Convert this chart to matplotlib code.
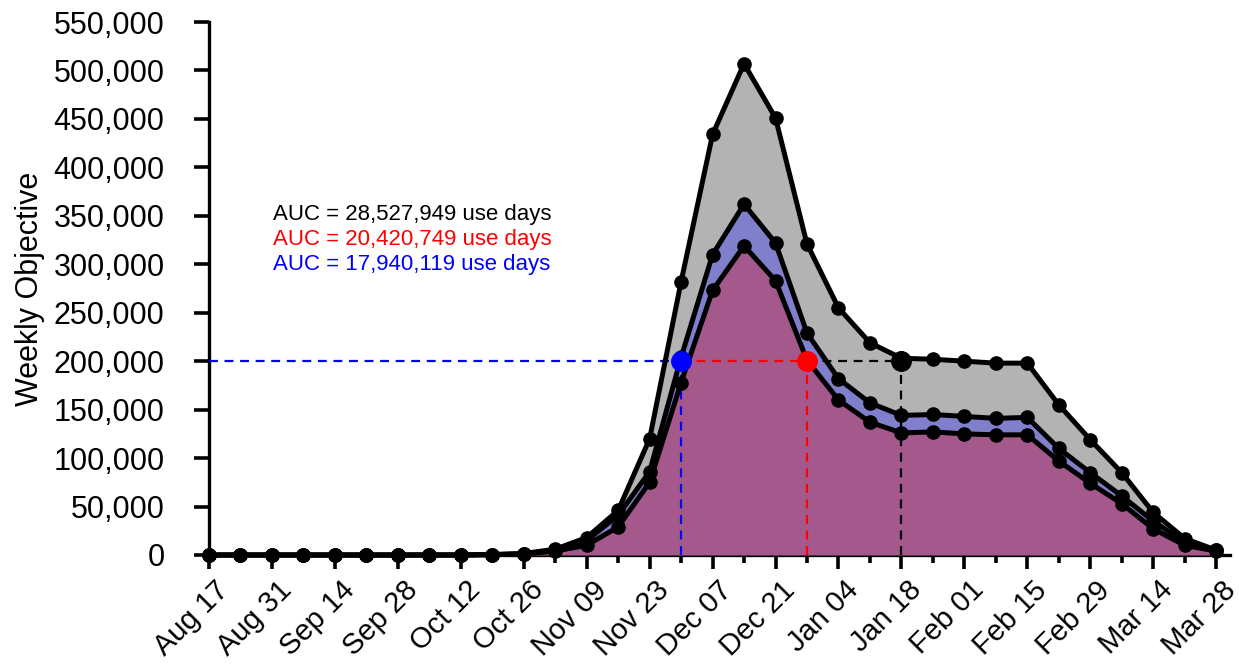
import matplotlib
matplotlib.use('Agg')
import matplotlib.pyplot as plt
from matplotlib.ticker import FuncFormatter, MultipleLocator
from matplotlib.transforms import ScaledTranslation

plt.rcParams['font.family'] = ['Liberation Sans', 'DejaVu Sans']

# semaines (aout -> mars), une etiquette toutes les 2 semaines
week_labels = ['Aug 17', 'Aug 31', 'Sep 14', 'Sep 28', 'Oct 12', 'Oct 26', 'Nov 09', 'Nov 23',
               'Dec 07', 'Dec 21', 'Jan 04', 'Jan 18', 'Feb 01', 'Feb 15', 'Feb 29', 'Mar 14', 'Mar 28']
weeks = list(range(33))

# courbe du haut (AUC = 28,527,949)
top_vals = [0, 0, 0, 0, 0, 0, 0, 0, 0, 500, 1500, 6000, 18000, 46000, 120000, 282000,
            434000, 507000, 451000, 321000, 255000, 219000, 203000, 202000, 200000, 198000,
            198000, 155000, 119000, 85000, 44000, 17000, 5000]
# courbe du milieu (AUC = 20,420,749)
mid_vals = [0, 0, 0, 0, 0, 0, 0, 0, 0, 400, 1200, 5000, 15000, 41000, 86000, 204000,
            310000, 362000, 322000, 229000, 182000, 157000, 144000, 145000, 143000, 141000,
            142000, 110000, 85000, 61000, 35000, 13000, 5000]
# courbe du bas (AUC = 17,940,119)
low_vals = [0, 0, 0, 0, 0, 0, 0, 0, 0, 300, 1000, 4000, 10000, 29000, 75000, 178000,
            273000, 319000, 283000, 201000, 160000, 137000, 126000, 127000, 125000, 124000,
            124000, 97000, 74000, 53000, 27000, 10000, 4000]

threshold = 200000
thresh_weeks = [15, 19, 22]  # Nov 30, Dec 28, Jan 18
thresh_colors = ['blue', 'red', 'black']

auc_texts = ['AUC = 28,527,949 use days', 'AUC = 20,420,749 use days', 'AUC = 17,940,119 use days']
auc_colors = ['black', 'red', 'blue']

fig = plt.figure(figsize=(12.39, 6.64), dpi=100)
ax = fig.add_axes([209 / 1239, 1 - 555 / 664, (1230 - 209) / 1239, (555 - 22) / 664])

# remplissages
ax.fill_between(weeks, top_vals, 0, color='#b3b3b3', lw=0, zorder=1)
ax.fill_between(weeks, mid_vals, 0, color='#7f7fcc', lw=0, zorder=2)
ax.fill_between(weeks, low_vals, 0, color='#a5588b', lw=0, zorder=3)

# lignes pointillees jusqu'au seuil
start = 0
for w, col in zip(thresh_weeks, thresh_colors):
    ax.plot([start, w], [threshold, threshold], color=col, lw=1.6, ls=(0, (4, 3)), zorder=4)
    ax.plot([w, w], [0, threshold], color=col, lw=1.6, ls=(0, (4, 3)), zorder=4)
    start = w

# courbes
for vals in [top_vals, mid_vals, low_vals]:
    ax.plot(weeks, vals, color='black', lw=3.6, marker='o', ms=9.5, zorder=5, clip_on=False)

for w, col in zip(thresh_weeks, thresh_colors):
    ax.plot(w, threshold, marker='o', ms=14, color=col, zorder=6)

for i, (txt, col) in enumerate(zip(auc_texts, auc_colors)):
    ax.text(2.03, 351000 - i * 25800, txt, color=col, fontsize=16, va='center', ha='left')

ax.set_xlim(0, 32.44)
ax.set_ylim(0, 550000)
ax.set_xticks(range(0, 33, 2))
ax.set_xticklabels(week_labels)
ax.xaxis.set_minor_locator(MultipleLocator(1))
ax.yaxis.set_major_locator(MultipleLocator(50000))
ax.yaxis.set_major_formatter(FuncFormatter(lambda v, p: f'{int(v):,}'))

for side in ['top', 'right']:
    ax.spines[side].set_visible(False)
for side in ['left', 'bottom']:
    ax.spines[side].set_linewidth(2.4)

ax.tick_params(axis='y', direction='out', length=11, width=2.6, labelsize=22, pad=21)
ax.tick_params(axis='x', which='major', direction='out', length=10, width=2.6, labelsize=21, pad=5)
ax.tick_params(axis='x', which='minor', direction='out', length=6, width=2.6)

offset = ScaledTranslation(4 / 72, 0, fig.dpi_scale_trans)
for lab in ax.get_xticklabels():
    lab.set_rotation(45)
    lab.set_ha('right')
    lab.set_rotation_mode('anchor')
    lab.set_transform(lab.get_transform() + offset)

ax.set_ylabel('Weekly Objective', fontsize=22, labelpad=6)

fig.savefig('out.png', dpi=100)
